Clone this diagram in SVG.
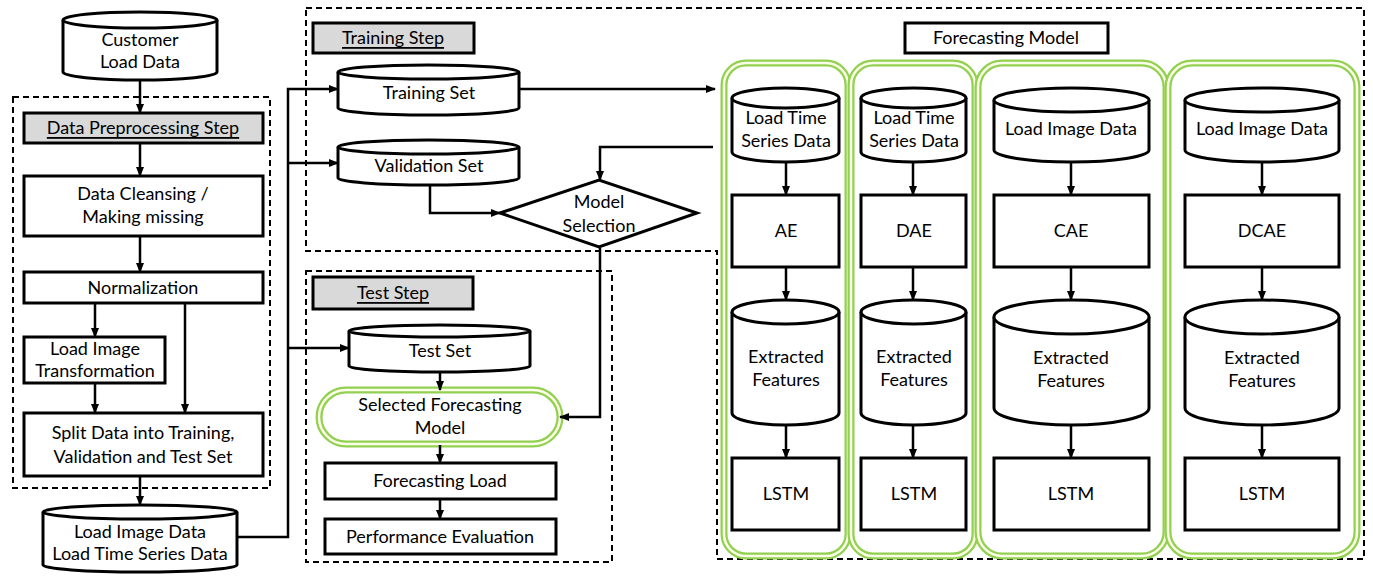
<svg xmlns="http://www.w3.org/2000/svg" width="1373" height="584" viewBox="0 0 1373 584">
<defs>
<marker id="ah" markerUnits="userSpaceOnUse" markerWidth="10" markerHeight="10" viewBox="0 0 10 10" refX="9" refY="5" orient="auto"><path d="M0,1 L10,5 L0,9 Z" fill="#000"/></marker>
</defs>
<style>
text{font-family:Lato,"Open Sans","Liberation Sans",sans-serif;font-size:18px;fill:#000;text-anchor:middle;dominant-baseline:central}
.box{fill:#fff;stroke:#000;stroke-width:3}
.gray{fill:#d9d9d9;stroke:#000;stroke-width:3}
.cyl{fill:#fff;stroke:#000;stroke-width:3}
.dash{fill:none;stroke:#000;stroke-width:2;stroke-dasharray:6 4}
.g1{fill:#fff;stroke:#92d050;stroke-width:7}
.g2{fill:none;stroke:#fbfde8;stroke-width:2.5}
.c{fill:none;stroke:#000;stroke-width:2.5;marker-end:url(#ah)}
.u{text-decoration:underline}
</style>
<rect width="1373" height="584" fill="#fff"/>
<!-- containers -->
<g id="preprocessing-group"><rect class="dash" x="13" y="97" width="257" height="391"/></g>
<g id="training-group"><path class="dash" d="M306,8 H1364 V559 H717 V251 H306 Z"/></g>
<g id="test-group"><rect class="dash" x="306" y="271" width="306" height="291"/></g>
<g id="col1"><rect class="g1" x="724" y="63" width="124" height="493" rx="22"/><rect class="g2" x="724" y="63" width="124" height="493" rx="22"/></g>
<g id="col2"><rect class="g1" x="851" y="63" width="124" height="493" rx="22"/><rect class="g2" x="851" y="63" width="124" height="493" rx="22"/></g>
<g id="col3"><rect class="g1" x="978" y="63" width="188" height="493" rx="24"/><rect class="g2" x="978" y="63" width="188" height="493" rx="24"/></g>
<g id="col4"><rect class="g1" x="1168" y="63" width="189" height="493" rx="24"/><rect class="g2" x="1168" y="63" width="189" height="493" rx="24"/></g>

<!-- left column -->
<g id="customer-load-data"><path class="cyl" d="M63,20 V72 A77,8 0 0 0 217,72 V20"/><ellipse class="cyl" cx="140" cy="20" rx="77" ry="8"/><text x="140" y="39">Customer</text><text x="140" y="61">Load Data</text></g>
<g id="preprocessing-step"><rect class="gray" x="24" y="113" width="239" height="30"/><text class="u" x="143" y="127">Data Preprocessing Step</text></g>
<g id="data-cleansing"><rect class="box" x="24" y="176" width="239" height="60"/><text x="143" y="193">Data Cleansing /</text><text x="143" y="216">Making missing</text></g>
<g id="normalization"><rect class="box" x="24" y="272" width="239" height="31"/><text x="143" y="287">Normalization</text></g>
<g id="load-image-transformation"><rect class="box" x="24" y="337" width="141" height="46"/><text x="95" y="348">Load Image</text><text x="95" y="370">Transformation</text></g>
<g id="split-data"><rect class="box" x="24" y="413" width="239" height="63"/><text x="143" y="432">Split Data into Training,</text><text x="143" y="456">Validation and Test Set</text></g>
<g id="load-data-store"><path class="cyl" d="M43,512 V565 A97,7 0 0 0 237,565 V512"/><ellipse class="cyl" cx="140" cy="512" rx="97" ry="7"/><text x="140" y="531">Load Image Data</text><text x="140" y="553">Load Time Series Data</text></g>

<!-- training step -->
<g id="training-step"><rect class="gray" x="313" y="23" width="161" height="30"/><text class="u" x="393" y="37">Training Step</text></g>
<g id="training-set"><path class="cyl" d="M338,72 V108 A90.5,7 0 0 0 519,108 V72"/><ellipse class="cyl" cx="428.5" cy="72" rx="90.5" ry="7"/><text x="429" y="92">Training Set</text></g>
<g id="validation-set"><path class="cyl" d="M338,147 V178 A90.5,7 0 0 0 519,178 V147"/><ellipse class="cyl" cx="428.5" cy="147" rx="90.5" ry="7"/><text x="429" y="165">Validation Set</text></g>
<g id="model-selection"><path class="box" d="M500,213 L599,180 L697,213 L599,247 Z"/><text x="599" y="201">Model</text><text x="599" y="225">Selection</text></g>

<!-- test step -->
<g id="test-step"><rect class="gray" x="313" y="277" width="160" height="32"/><text class="u" x="393" y="292">Test Step</text></g>
<g id="test-set"><path class="cyl" d="M349,331 V366 A90.5,6 0 0 0 530,366 V331"/><ellipse class="cyl" cx="439.5" cy="331" rx="90.5" ry="6"/><text x="440" y="350">Test Set</text></g>
<g id="selected-model"><rect class="g1" x="319" y="390" width="241" height="54" rx="27"/><rect class="g2" x="319" y="390" width="241" height="54" rx="27"/><text x="440" y="404">Selected Forecasting</text><text x="440" y="427">Model</text></g>
<g id="forecasting-load"><rect class="box" x="325" y="463" width="231" height="36"/><text x="440" y="480">Forecasting Load</text></g>
<g id="performance-evaluation"><rect class="box" x="325" y="519" width="231" height="35"/><text x="440" y="536">Performance Evaluation</text></g>

<!-- forecasting model -->
<g id="forecasting-model-title"><rect class="box" x="905" y="23" width="203" height="30"/><text x="1006" y="37">Forecasting Model</text></g>

<g id="ae-input"><path class="cyl" d="M732,98 V152 A53.5,10 0 0 0 839,152 V98"/><ellipse class="cyl" cx="785.5" cy="98" rx="53.5" ry="10"/><text x="786" y="117">Load Time</text><text x="786" y="140">Series Data</text></g>
<g id="ae"><rect class="box" x="732" y="195" width="107" height="72"/><text x="786" y="230">AE</text></g>
<g id="ae-features"><path class="cyl" d="M732,312 V413 A53.5,12 0 0 0 839,413 V312"/><ellipse class="cyl" cx="785.5" cy="312" rx="53.5" ry="12"/><text x="786" y="356">Extracted</text><text x="786" y="379">Features</text></g>
<g id="ae-lstm"><rect class="box" x="732" y="458" width="107" height="72"/><text x="786" y="493">LSTM</text></g>

<g id="dae-input"><path class="cyl" d="M861,98 V152 A52.5,10 0 0 0 966,152 V98"/><ellipse class="cyl" cx="913.5" cy="98" rx="52.5" ry="10"/><text x="914" y="117">Load Time</text><text x="914" y="140">Series Data</text></g>
<g id="dae"><rect class="box" x="861" y="195" width="105" height="72"/><text x="914" y="230">DAE</text></g>
<g id="dae-features"><path class="cyl" d="M861,312 V413 A52.5,12 0 0 0 966,413 V312"/><ellipse class="cyl" cx="913.5" cy="312" rx="52.5" ry="12"/><text x="914" y="356">Extracted</text><text x="914" y="379">Features</text></g>
<g id="dae-lstm"><rect class="box" x="861" y="458" width="105" height="72"/><text x="914" y="493">LSTM</text></g>

<g id="cae-input"><path class="cyl" d="M994,100 V150 A77.5,12 0 0 0 1149,150 V100"/><ellipse class="cyl" cx="1071.5" cy="100" rx="77.5" ry="12"/><text x="1071" y="128">Load Image Data</text></g>
<g id="cae"><rect class="box" x="994" y="195" width="155" height="72"/><text x="1071" y="230">CAE</text></g>
<g id="cae-features"><path class="cyl" d="M994,317 V408 A77.5,17 0 0 0 1149,408 V317"/><ellipse class="cyl" cx="1071.5" cy="317" rx="77.5" ry="17"/><text x="1071" y="357">Extracted</text><text x="1071" y="380">Features</text></g>
<g id="cae-lstm"><rect class="box" x="994" y="458" width="155" height="72"/><text x="1071" y="493">LSTM</text></g>

<g id="dcae-input"><path class="cyl" d="M1185,100 V150 A77,12 0 0 0 1339,150 V100"/><ellipse class="cyl" cx="1262" cy="100" rx="77" ry="12"/><text x="1262" y="128">Load Image Data</text></g>
<g id="dcae"><rect class="box" x="1185" y="195" width="154" height="72"/><text x="1262" y="230">DCAE</text></g>
<g id="dcae-features"><path class="cyl" d="M1185,317 V408 A77,17 0 0 0 1339,408 V317"/><ellipse class="cyl" cx="1262" cy="317" rx="77" ry="17"/><text x="1262" y="357">Extracted</text><text x="1262" y="380">Features</text></g>
<g id="dcae-lstm"><rect class="box" x="1185" y="458" width="154" height="72"/><text x="1262" y="493">LSTM</text></g>

<!-- connectors -->
<g id="connectors">
<path class="c" d="M140,81 V113"/>
<path class="c" d="M140,144 V176"/>
<path class="c" d="M140,237 V272"/>
<path class="c" d="M95,304 V337"/>
<path class="c" d="M185,304 V413"/>
<path class="c" d="M95,384 V413"/>
<path class="c" d="M140,477 V505"/>
<path class="c" d="M237,537 H288 V89 H338"/>
<path class="c" d="M288,163 H338"/>
<path class="c" d="M288,348 H349"/>
<path class="c" d="M519,89 H715"/>
<path class="c" d="M430,185 V213 H500"/>
<path class="c" d="M713,147 H600 V180"/>
<path class="c" d="M600,248 V417 H560"/>
<path class="c" d="M440,373 V390"/>
<path class="c" d="M440,445 V463"/>
<path class="c" d="M440,500 V519"/>
<path class="c" d="M786,163 V195"/>
<path class="c" d="M786,268 V300"/>
<path class="c" d="M786,426 V458"/>
<path class="c" d="M913,163 V195"/>
<path class="c" d="M913,268 V300"/>
<path class="c" d="M913,426 V458"/>
<path class="c" d="M1071,163 V195"/>
<path class="c" d="M1071,268 V300"/>
<path class="c" d="M1071,426 V458"/>
<path class="c" d="M1262,163 V195"/>
<path class="c" d="M1262,268 V300"/>
<path class="c" d="M1262,426 V458"/>
</g>
</svg>
